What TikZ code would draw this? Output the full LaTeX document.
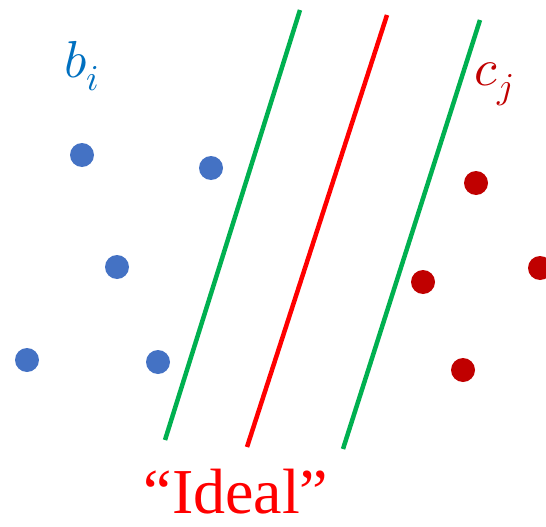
\documentclass[tikz,border=0pt]{standalone}
\usepackage{fontspec}
\usepackage{unicode-math}
\setmainfont{Liberation Serif}
\setmathfont{Latin Modern Math}
\definecolor{cblue}{HTML}{4472C4}
\definecolor{clabelblue}{HTML}{0070C0}
\definecolor{cdarkred}{HTML}{C00000}
\definecolor{cgreen}{HTML}{00B050}
\definecolor{cred}{HTML}{FF0000}
\tikzset{
  bdot/.style={circle, fill=cblue, minimum size=24pt, inner sep=0pt},
  rdot/.style={circle, fill=cdarkred, minimum size=24pt, inner sep=0pt},
  sepline/.style={line width=4.5pt},
  varlabel/.style={font=\fontsize{52}{58}\selectfont},
}
\begin{document}
\begin{tikzpicture}[x=1pt, y=-1pt]
  \useasboundingbox (0,0) rectangle (546,527);
  % points of the two classes
  \foreach \k/\xx/\yy in {1/82/155, 2/211/168, 3/117/267, 4/27/360, 5/158/362}
    \node[bdot] (b\k) at (\xx,\yy) {};
  \foreach \k/\xx/\yy in {1/476/183, 2/423/282, 3/540/268, 4/463/370}
    \node[rdot] (c\k) at (\xx,\yy) {};
  % margins and separating line
  \coordinate (gl1) at (300,10);  \coordinate (gl2) at (165,440);
  \coordinate (rl1) at (387,15);  \coordinate (rl2) at (247,447);
  \coordinate (gr1) at (480,20);  \coordinate (gr2) at (343,449);
  \draw[sepline, cgreen] (gl1) -- (gl2);
  \draw[sepline, cred] (rl1) -- (rl2);
  \draw[sepline, cgreen] (gr1) -- (gr2);
  % labels
  \node[varlabel, text=clabelblue] (blab) at (82,66) {$b_i$};
  \node[varlabel, text=cdarkred] (clab) at (494,84) {$c_j$};
  \node[text=cred, font=\fontsize{64}{72}\selectfont] (ideal) at (236,492) {``Ideal''};
\end{tikzpicture}
\end{document}
